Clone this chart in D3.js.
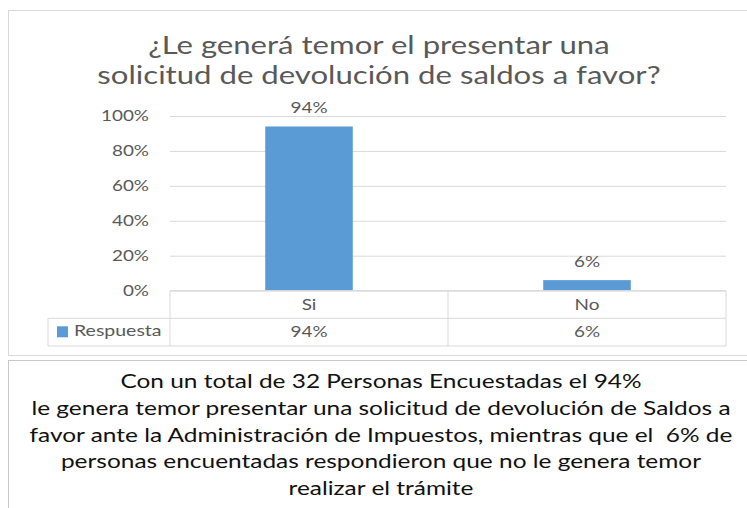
<!DOCTYPE html>
<html>
<head>
<meta charset="utf-8">
<script src="https://cdn.jsdelivr.net/npm/d3@7"></script>
<style>
  body { margin: 0; background: #fff; }
  svg { display: block; }
  text { font-family: Lato, "Open Sans", sans-serif; }
</style>
</head>
<body>
<div id="chart"></div>
<script>
// data
var categories = ["Si", "No"];
var values = [0.94, 0.06];
var seriesName = "Respuesta";
var yTicks = [0, 0.2, 0.4, 0.6, 0.8, 1];
var titleLines = ["¿Le generá temor el presentar una", "solicitud de devolución de saldos a favor?"];
var noteLines = [
    "Con un total de 32 Personas Encuestadas el 94%",
    "le genera temor presentar una solicitud de devolución de Saldos a",
    "favor ante la Administración de Impuestos, mientras que el  6% de",
    "personas encuentadas respondieron que no le genera temor",
    "realizar el trámite"
];

var width = 747, height = 508;
var plot = {left: 170, right: 726, top: 116, bottom: 290.6};
var rowH = 27.7;
var grey = "#595959", line = "#d9d9d9", barColor = "#5b9bd5";

// the picture is wider than normal type, so stretch the text sideways
function stretch(k) {
    return function (sel) {
        sel.each(function () {
            var w = this.getComputedTextLength();
            this.setAttribute("textLength", w * k);
            this.setAttribute("lengthAdjust", "spacingAndGlyphs");
        });
    };
}

var svg = d3.select("#chart").append("svg")
    .attr("width", width)
    .attr("height", height);

// chart frame and note frame
svg.append("rect")
    .attr("x", 8.5).attr("y", 10.5)
    .attr("width", 800).attr("height", 345)
    .attr("fill", "none").attr("stroke", line);
svg.append("rect")
    .attr("x", 8.5).attr("y", 360.5)
    .attr("width", 800).attr("height", 200)
    .attr("fill", "none").attr("stroke", "#c8c8c8");

// title
svg.append("g").selectAll("text")
    .data(titleLines)
    .enter().append("text")
    .attr("x", 379)
    .attr("y", function (d, i) { return 54 + i * 30; })
    .attr("text-anchor", "middle")
    .attr("fill", grey)
    .style("font-size", "24.5px")
    .text(function (d) { return d; })
    .call(stretch(1.27));

var x = d3.scaleBand()
    .domain(categories)
    .range([plot.left, plot.right]);

var y = d3.scaleLinear()
    .domain([0, 1])
    .range([plot.bottom, plot.top]);

// gridlines
svg.append("g")
    .attr("transform", "translate(" + plot.left + ",0)")
    .call(d3.axisLeft(y).tickValues(yTicks).tickSize(-(plot.right - plot.left)).tickFormat(""))
    .call(function (g) {
        g.select(".domain").remove();
        g.selectAll("line").attr("stroke", line);
    });

// y axis labels
var yAxis = svg.append("g")
    .attr("transform", "translate(" + plot.left + ",0)")
    .call(d3.axisLeft(y).tickValues(yTicks).tickFormat(d3.format(".0%")).tickSize(0).tickPadding(21));
yAxis.select(".domain").remove();
yAxis.selectAll("text")
    .attr("fill", grey)
    .style("font-family", "Lato, sans-serif")
    .style("font-size", "15px")
    .call(stretch(1.26));

// bars
var barW = x.bandwidth() * 0.315;
svg.append("g").selectAll("rect")
    .data(values)
    .enter().append("rect")
    .attr("x", function (d, i) { return x(categories[i]) + (x.bandwidth() - barW) / 2; })
    .attr("y", function (d) { return y(d); })
    .attr("width", barW)
    .attr("height", function (d) { return y(0) - y(d); })
    .attr("fill", barColor);

// data labels
svg.append("g").selectAll("text")
    .data(values)
    .enter().append("text")
    .attr("x", function (d, i) { return x(categories[i]) + x.bandwidth() / 2; })
    .attr("y", function (d) { return y(d) - 13; })
    .attr("text-anchor", "middle")
    .attr("fill", grey)
    .style("font-size", "15px")
    .text(function (d) { return d3.format(".0%")(d); })
    .call(stretch(1.26));

// data table
var table = svg.append("g").attr("stroke", line).attr("fill", "none");
var r0 = plot.bottom, r1 = plot.bottom + rowH, r2 = plot.bottom + 2 * rowH;
table.append("line").attr("x1", plot.left).attr("x2", plot.right).attr("y1", r0).attr("y2", r0);
table.append("line").attr("x1", 48).attr("x2", plot.right).attr("y1", r1).attr("y2", r1);
table.append("line").attr("x1", 48).attr("x2", plot.right).attr("y1", r2).attr("y2", r2);
table.append("line").attr("x1", 48).attr("x2", 48).attr("y1", r1).attr("y2", r2);
table.selectAll(".col")
    .data(categories.map(function (c) { return x(c); }).concat([plot.right]))
    .enter().append("line")
    .attr("x1", function (d) { return d; }).attr("x2", function (d) { return d; })
    .attr("y1", r0).attr("y2", r2);

svg.append("g").selectAll("text")
    .data(categories)
    .enter().append("text")
    .attr("x", function (d) { return x(d) + x.bandwidth() / 2; })
    .attr("y", r0 + 19)
    .attr("text-anchor", "middle")
    .attr("fill", grey)
    .style("font-size", "15px")
    .text(function (d) { return d; })
    .call(stretch(1.26));

svg.append("g").selectAll("text")
    .data(values)
    .enter().append("text")
    .attr("x", function (d, i) { return x(categories[i]) + x.bandwidth() / 2; })
    .attr("y", r1 + 19)
    .attr("text-anchor", "middle")
    .attr("fill", grey)
    .style("font-size", "15px")
    .text(function (d) { return d3.format(".0%")(d); })
    .call(stretch(1.26));

// legend key in the table
svg.append("rect")
    .attr("x", 57).attr("y", r1 + 8)
    .attr("width", 11).attr("height", 11)
    .attr("fill", barColor);
svg.append("text")
    .attr("x", 74).attr("y", r1 + 18)
    .attr("fill", grey)
    .style("font-size", "15px")
    .text(seriesName)
    .call(stretch(1.3));

// note below the chart
svg.append("g").selectAll("text")
    .data(noteLines)
    .enter().append("text")
    .attr("x", 381)
    .attr("y", function (d, i) { return 388 + i * 26.8; })
    .attr("text-anchor", "middle")
    .attr("fill", "#111")
    .style("font-size", "18.5px")
    .style("white-space", "pre")
    .text(function (d) { return d; })
    .call(stretch(1.32));
</script>
</body>
</html>
